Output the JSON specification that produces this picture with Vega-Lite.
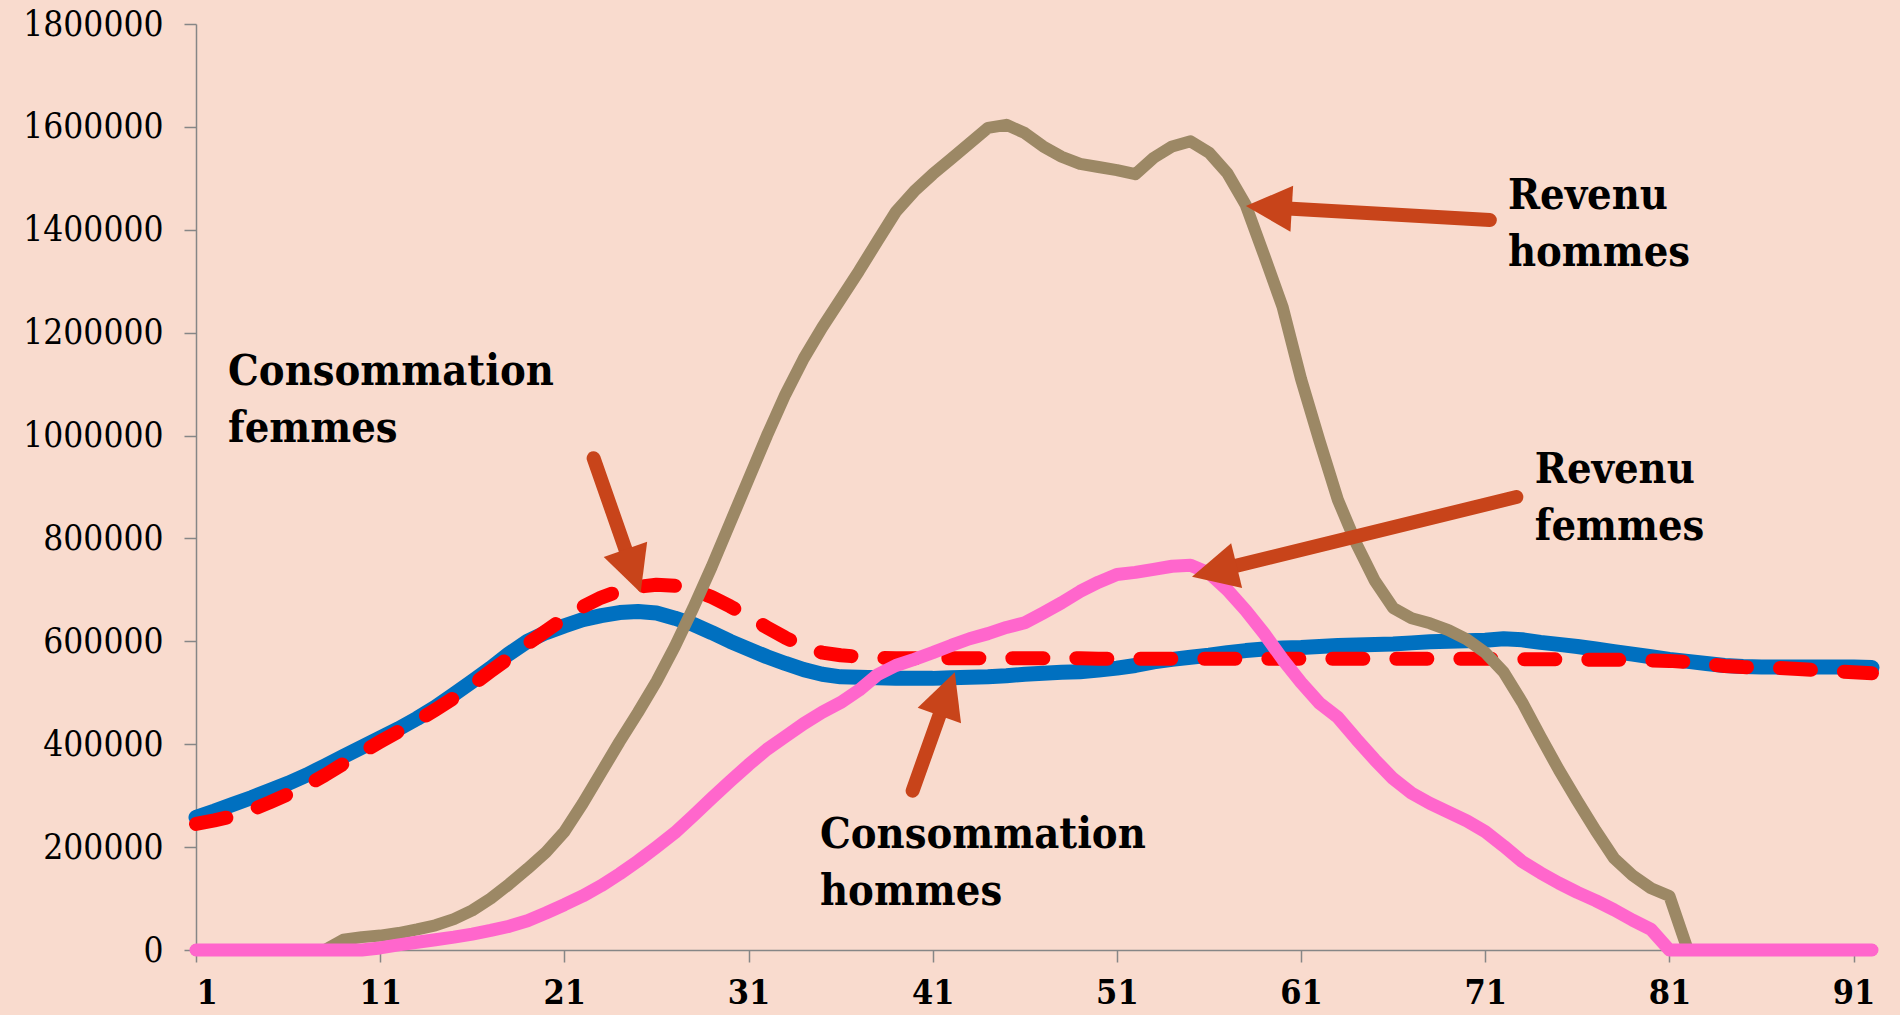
{
 "$schema": "https://vega.github.io/schema/vega-lite/v6.json",
 "width": 1676, "height": 926,
 "autosize": {"type": "none"},
 "padding": {"left": 196, "top": 24, "right": 28, "bottom": 65},
 "background": "#F9DBCE",
 "config": {
  "view": {"stroke": null},
  "axis": {"grid": false, "domainColor": "#868686", "domainWidth": 1.5, "tickColor": "#868686", "tickWidth": 1.5, "tickSize": 12, "labelColor": "#000000", "title": null},
  "axisY": {"labelFont": "DejaVu Serif Condensed", "labelFontSize": 35, "labelPadding": 21},
  "axisX": {"labelFont": "DejaVu Serif Condensed", "labelFontSize": 34, "labelFontWeight": "bold", "labelPadding": 14}
 },
 "datasets": {
  "series": [
   {"age":1,"conso_h":258000,"conso_f":245000,"revenu_h":0,"revenu_f":0},
   {"age":2,"conso_h":270000,"conso_f":252000,"revenu_h":0,"revenu_f":0},
   {"age":3,"conso_h":283000,"conso_f":260000,"revenu_h":0,"revenu_f":0},
   {"age":4,"conso_h":296000,"conso_f":272000,"revenu_h":0,"revenu_f":0},
   {"age":5,"conso_h":310000,"conso_f":287000,"revenu_h":0,"revenu_f":0},
   {"age":6,"conso_h":324000,"conso_f":303000,"revenu_h":0,"revenu_f":0},
   {"age":7,"conso_h":340000,"conso_f":320000,"revenu_h":0,"revenu_f":0},
   {"age":8,"conso_h":358000,"conso_f":340000,"revenu_h":0,"revenu_f":0},
   {"age":9,"conso_h":376000,"conso_f":362000,"revenu_h":20000,"revenu_f":0},
   {"age":10,"conso_h":394000,"conso_f":384000,"revenu_h":25000,"revenu_f":0},
   {"age":11,"conso_h":412000,"conso_f":405000,"revenu_h":28000,"revenu_f":4000},
   {"age":12,"conso_h":430000,"conso_f":425000,"revenu_h":33000,"revenu_f":10000},
   {"age":13,"conso_h":450000,"conso_f":445000,"revenu_h":40000,"revenu_f":15000},
   {"age":14,"conso_h":472000,"conso_f":467000,"revenu_h":48000,"revenu_f":20000},
   {"age":15,"conso_h":497000,"conso_f":490000,"revenu_h":60000,"revenu_f":25000},
   {"age":16,"conso_h":522000,"conso_f":515000,"revenu_h":77000,"revenu_f":31000},
   {"age":17,"conso_h":548000,"conso_f":542000,"revenu_h":100000,"revenu_f":38000},
   {"age":18,"conso_h":576000,"conso_f":568000,"revenu_h":128000,"revenu_f":46000},
   {"age":19,"conso_h":600000,"conso_f":595000,"revenu_h":158000,"revenu_f":57000},
   {"age":20,"conso_h":617000,"conso_f":620000,"revenu_h":190000,"revenu_f":72000},
   {"age":21,"conso_h":630000,"conso_f":645000,"revenu_h":230000,"revenu_f":88000},
   {"age":22,"conso_h":642000,"conso_f":667000,"revenu_h":285000,"revenu_f":105000},
   {"age":23,"conso_h":650000,"conso_f":685000,"revenu_h":345000,"revenu_f":125000},
   {"age":24,"conso_h":656000,"conso_f":698000,"revenu_h":405000,"revenu_f":148000},
   {"age":25,"conso_h":658000,"conso_f":706000,"revenu_h":462000,"revenu_f":173000},
   {"age":26,"conso_h":655000,"conso_f":710000,"revenu_h":522000,"revenu_f":200000},
   {"age":27,"conso_h":645000,"conso_f":708000,"revenu_h":590000,"revenu_f":228000},
   {"age":28,"conso_h":633000,"conso_f":700000,"revenu_h":665000,"revenu_f":261000},
   {"age":29,"conso_h":617000,"conso_f":686000,"revenu_h":745000,"revenu_f":295000},
   {"age":30,"conso_h":600000,"conso_f":668000,"revenu_h":830000,"revenu_f":328000},
   {"age":31,"conso_h":585000,"conso_f":648000,"revenu_h":915000,"revenu_f":360000},
   {"age":32,"conso_h":570000,"conso_f":627000,"revenu_h":1000000,"revenu_f":390000},
   {"age":33,"conso_h":557000,"conso_f":607000,"revenu_h":1080000,"revenu_f":415000},
   {"age":34,"conso_h":545000,"conso_f":590000,"revenu_h":1150000,"revenu_f":440000},
   {"age":35,"conso_h":536000,"conso_f":578000,"revenu_h":1210000,"revenu_f":462000},
   {"age":36,"conso_h":531000,"conso_f":573000,"revenu_h":1265000,"revenu_f":481000},
   {"age":37,"conso_h":530000,"conso_f":570000,"revenu_h":1320000,"revenu_f":505000},
   {"age":38,"conso_h":529000,"conso_f":568000,"revenu_h":1378000,"revenu_f":535000},
   {"age":39,"conso_h":528000,"conso_f":567000,"revenu_h":1435000,"revenu_f":553000},
   {"age":40,"conso_h":528000,"conso_f":567000,"revenu_h":1475000,"revenu_f":565000},
   {"age":41,"conso_h":528000,"conso_f":567000,"revenu_h":1508000,"revenu_f":578000},
   {"age":42,"conso_h":529000,"conso_f":567000,"revenu_h":1538000,"revenu_f":592000},
   {"age":43,"conso_h":530000,"conso_f":567000,"revenu_h":1568000,"revenu_f":605000},
   {"age":44,"conso_h":531000,"conso_f":567000,"revenu_h":1598000,"revenu_f":615000},
   {"age":45,"conso_h":533000,"conso_f":567000,"revenu_h":1604000,"revenu_f":627000},
   {"age":46,"conso_h":536000,"conso_f":567000,"revenu_h":1588000,"revenu_f":636000},
   {"age":47,"conso_h":538000,"conso_f":567000,"revenu_h":1562000,"revenu_f":655000},
   {"age":48,"conso_h":540000,"conso_f":567000,"revenu_h":1542000,"revenu_f":675000},
   {"age":49,"conso_h":541000,"conso_f":567000,"revenu_h":1528000,"revenu_f":697000},
   {"age":50,"conso_h":544000,"conso_f":566000,"revenu_h":1522000,"revenu_f":715000},
   {"age":51,"conso_h":548000,"conso_f":566000,"revenu_h":1516000,"revenu_f":730000},
   {"age":52,"conso_h":553000,"conso_f":566000,"revenu_h":1508000,"revenu_f":734000},
   {"age":53,"conso_h":560000,"conso_f":566000,"revenu_h":1540000,"revenu_f":740000},
   {"age":54,"conso_h":565000,"conso_f":566000,"revenu_h":1562000,"revenu_f":746000},
   {"age":55,"conso_h":569000,"conso_f":566000,"revenu_h":1572000,"revenu_f":748000},
   {"age":56,"conso_h":573000,"conso_f":566000,"revenu_h":1550000,"revenu_f":733000},
   {"age":57,"conso_h":578000,"conso_f":566000,"revenu_h":1510000,"revenu_f":700000},
   {"age":58,"conso_h":582000,"conso_f":566000,"revenu_h":1448000,"revenu_f":660000},
   {"age":59,"conso_h":585000,"conso_f":566000,"revenu_h":1350000,"revenu_f":615000},
   {"age":60,"conso_h":587000,"conso_f":566000,"revenu_h":1250000,"revenu_f":565000},
   {"age":61,"conso_h":588000,"conso_f":566000,"revenu_h":1110000,"revenu_f":520000},
   {"age":62,"conso_h":590000,"conso_f":566000,"revenu_h":990000,"revenu_f":480000},
   {"age":63,"conso_h":592000,"conso_f":566000,"revenu_h":875000,"revenu_f":452000},
   {"age":64,"conso_h":593000,"conso_f":566000,"revenu_h":790000,"revenu_f":410000},
   {"age":65,"conso_h":594000,"conso_f":566000,"revenu_h":718000,"revenu_f":370000},
   {"age":66,"conso_h":595000,"conso_f":566000,"revenu_h":665000,"revenu_f":333000},
   {"age":67,"conso_h":597000,"conso_f":566000,"revenu_h":645000,"revenu_f":305000},
   {"age":68,"conso_h":599000,"conso_f":566000,"revenu_h":635000,"revenu_f":285000},
   {"age":69,"conso_h":600000,"conso_f":566000,"revenu_h":622000,"revenu_f":268000},
   {"age":70,"conso_h":601000,"conso_f":566000,"revenu_h":604000,"revenu_f":251000},
   {"age":71,"conso_h":602000,"conso_f":566000,"revenu_h":578000,"revenu_f":230000},
   {"age":72,"conso_h":605000,"conso_f":566000,"revenu_h":540000,"revenu_f":202000},
   {"age":73,"conso_h":603000,"conso_f":565000,"revenu_h":482000,"revenu_f":172000},
   {"age":74,"conso_h":598000,"conso_f":565000,"revenu_h":415000,"revenu_f":150000},
   {"age":75,"conso_h":594000,"conso_f":565000,"revenu_h":350000,"revenu_f":130000},
   {"age":76,"conso_h":590000,"conso_f":565000,"revenu_h":290000,"revenu_f":112000},
   {"age":77,"conso_h":585000,"conso_f":564000,"revenu_h":232000,"revenu_f":96000},
   {"age":78,"conso_h":580000,"conso_f":564000,"revenu_h":178000,"revenu_f":78000},
   {"age":79,"conso_h":575000,"conso_f":564000,"revenu_h":145000,"revenu_f":58000},
   {"age":80,"conso_h":570000,"conso_f":563000,"revenu_h":120000,"revenu_f":40000},
   {"age":81,"conso_h":565000,"conso_f":562000,"revenu_h":105000,"revenu_f":0},
   {"age":82,"conso_h":561000,"conso_f":560000,"revenu_h":0,"revenu_f":0},
   {"age":83,"conso_h":557000,"conso_f":556000,"revenu_h":0,"revenu_f":0},
   {"age":84,"conso_h":553000,"conso_f":552000,"revenu_h":0,"revenu_f":0},
   {"age":85,"conso_h":551000,"conso_f":550000,"revenu_h":0,"revenu_f":0},
   {"age":86,"conso_h":550000,"conso_f":549000,"revenu_h":0,"revenu_f":0},
   {"age":87,"conso_h":550000,"conso_f":548000,"revenu_h":0,"revenu_f":0},
   {"age":88,"conso_h":550000,"conso_f":546000,"revenu_h":0,"revenu_f":0},
   {"age":89,"conso_h":550000,"conso_f":544000,"revenu_h":0,"revenu_f":0},
   {"age":90,"conso_h":550000,"conso_f":542000,"revenu_h":0,"revenu_f":0},
   {"age":91,"conso_h":550000,"conso_f":540000,"revenu_h":0,"revenu_f":0},
   {"age":92,"conso_h":549000,"conso_f":538000,"revenu_h":0,"revenu_f":0}
  ],
  "arrows": [
   {"name":"cf","x1":22.59,"y1":956000,"x2":24.73,"y2":736400},
   {"name":"rh","x1":71.25,"y1":1418800,"x2":59.25,"y2":1443500},
   {"name":"rf","x1":72.69,"y1":880500,"x2":56.29,"y2":736400},
   {"name":"ch","x1":39.91,"y1":309600,"x2":41.78,"y2":498000}
  ],
  "labels": [
   {"label":"Consommation|femmes","x":2.74,"y":1098000},
   {"label":"Revenu|hommes","x":72.23,"y":1440200},
   {"label":"Revenu|femmes","x":73.69,"y":907700},
   {"label":"Consommation|hommes","x":34.88,"y":198200}
  ]
 },
 "layer": [
  {
   "data": {"name": "series"},
   "mark": {"type": "line", "color": "#0070C0", "strokeWidth": 15, "strokeCap": "round", "strokeJoin": "round"},
   "encoding": {
    "x": {"field": "age", "type": "quantitative", "scale": {"domain": [1, 92], "nice": false, "zero": false}, "axis": {"values": [1,11,21,31,41,51,61,71,81,91], "format": "d", "title": null}},
    "y": {"field": "conso_h", "type": "quantitative", "scale": {"domain": [0, 1800000], "nice": false}, "axis": {"values": [0,200000,400000,600000,800000,1000000,1200000,1400000,1600000,1800000], "format": "d", "title": null}}
   }
  },
  {
   "data": {"name": "series"},
   "mark": {"type": "line", "color": "#FF0000", "strokeWidth": 14, "strokeCap": "round", "strokeJoin": "round", "strokeDash": [31, 33]},
   "encoding": {
    "x": {"field": "age", "type": "quantitative", "axis": {"title": null}},
    "y": {"field": "conso_f", "type": "quantitative", "axis": {"title": null}}
   }
  },
  {
   "data": {"name": "series"},
   "mark": {"type": "line", "color": "#9C8865", "strokeWidth": 12, "strokeCap": "round", "strokeJoin": "round"},
   "encoding": {
    "x": {"field": "age", "type": "quantitative", "axis": {"title": null}},
    "y": {"field": "revenu_h", "type": "quantitative", "axis": {"title": null}}
   }
  },
  {
   "data": {"name": "series"},
   "mark": {"type": "line", "color": "#FF66CC", "strokeWidth": 13, "strokeCap": "round", "strokeJoin": "round"},
   "encoding": {
    "x": {"field": "age", "type": "quantitative", "axis": {"title": null}},
    "y": {"field": "revenu_f", "type": "quantitative", "axis": {"title": null}}
   }
  },
  {
   "data": {"name": "arrows"},
   "mark": {"type": "rule", "color": "#C8441A", "strokeWidth": 14, "strokeCap": "round"},
   "encoding": {
    "x": {"field": "x1", "type": "quantitative", "axis": {"title": null}},
    "y": {"field": "y1", "type": "quantitative", "axis": {"title": null}},
    "x2": {"field": "x2"},
    "y2": {"field": "y2"}
   }
  },
  {
   "data": {"name": "arrows"},
   "transform": [{"filter": "datum.name === 'cf'"}],
   "mark": {"type": "point", "shape": "M0,-1L1,1L-1,1Z", "size": 2116, "filled": true, "opacity": 1, "color": "#C8441A", "angle": 160.7},
   "encoding": {
    "x": {"field": "x2", "type": "quantitative", "axis": {"title": null}},
    "y": {"field": "y2", "type": "quantitative", "axis": {"title": null}}
   }
  },
  {
   "data": {"name": "arrows"},
   "transform": [{"filter": "datum.name === 'rh'"}],
   "mark": {"type": "point", "shape": "M0,-1L1,1L-1,1Z", "size": 2116, "filled": true, "opacity": 1, "color": "#C8441A", "angle": 273.3},
   "encoding": {
    "x": {"field": "x2", "type": "quantitative", "axis": {"title": null}},
    "y": {"field": "y2", "type": "quantitative", "axis": {"title": null}}
   }
  },
  {
   "data": {"name": "arrows"},
   "transform": [{"filter": "datum.name === 'rf'"}],
   "mark": {"type": "point", "shape": "M0,-1L1,1L-1,1Z", "size": 2116, "filled": true, "opacity": 1, "color": "#C8441A", "angle": 256.2},
   "encoding": {
    "x": {"field": "x2", "type": "quantitative", "axis": {"title": null}},
    "y": {"field": "y2", "type": "quantitative", "axis": {"title": null}}
   }
  },
  {
   "data": {"name": "arrows"},
   "transform": [{"filter": "datum.name === 'ch'"}],
   "mark": {"type": "point", "shape": "M0,-1L1,1L-1,1Z", "size": 2116, "filled": true, "opacity": 1, "color": "#C8441A", "angle": 19.6},
   "encoding": {
    "x": {"field": "x2", "type": "quantitative", "axis": {"title": null}},
    "y": {"field": "y2", "type": "quantitative", "axis": {"title": null}}
   }
  },
  {
   "data": {"name": "labels"},
   "mark": {"type": "text", "align": "left", "baseline": "alphabetic", "font": "DejaVu Serif Condensed", "fontWeight": "bold", "fontSize": 43, "lineHeight": 57, "lineBreak": "|", "color": "#000000"},
   "encoding": {
    "x": {"field": "x", "type": "quantitative", "axis": {"title": null}},
    "y": {"field": "y", "type": "quantitative", "axis": {"title": null}},
    "text": {"field": "label"}
   }
  }
 ]
}
